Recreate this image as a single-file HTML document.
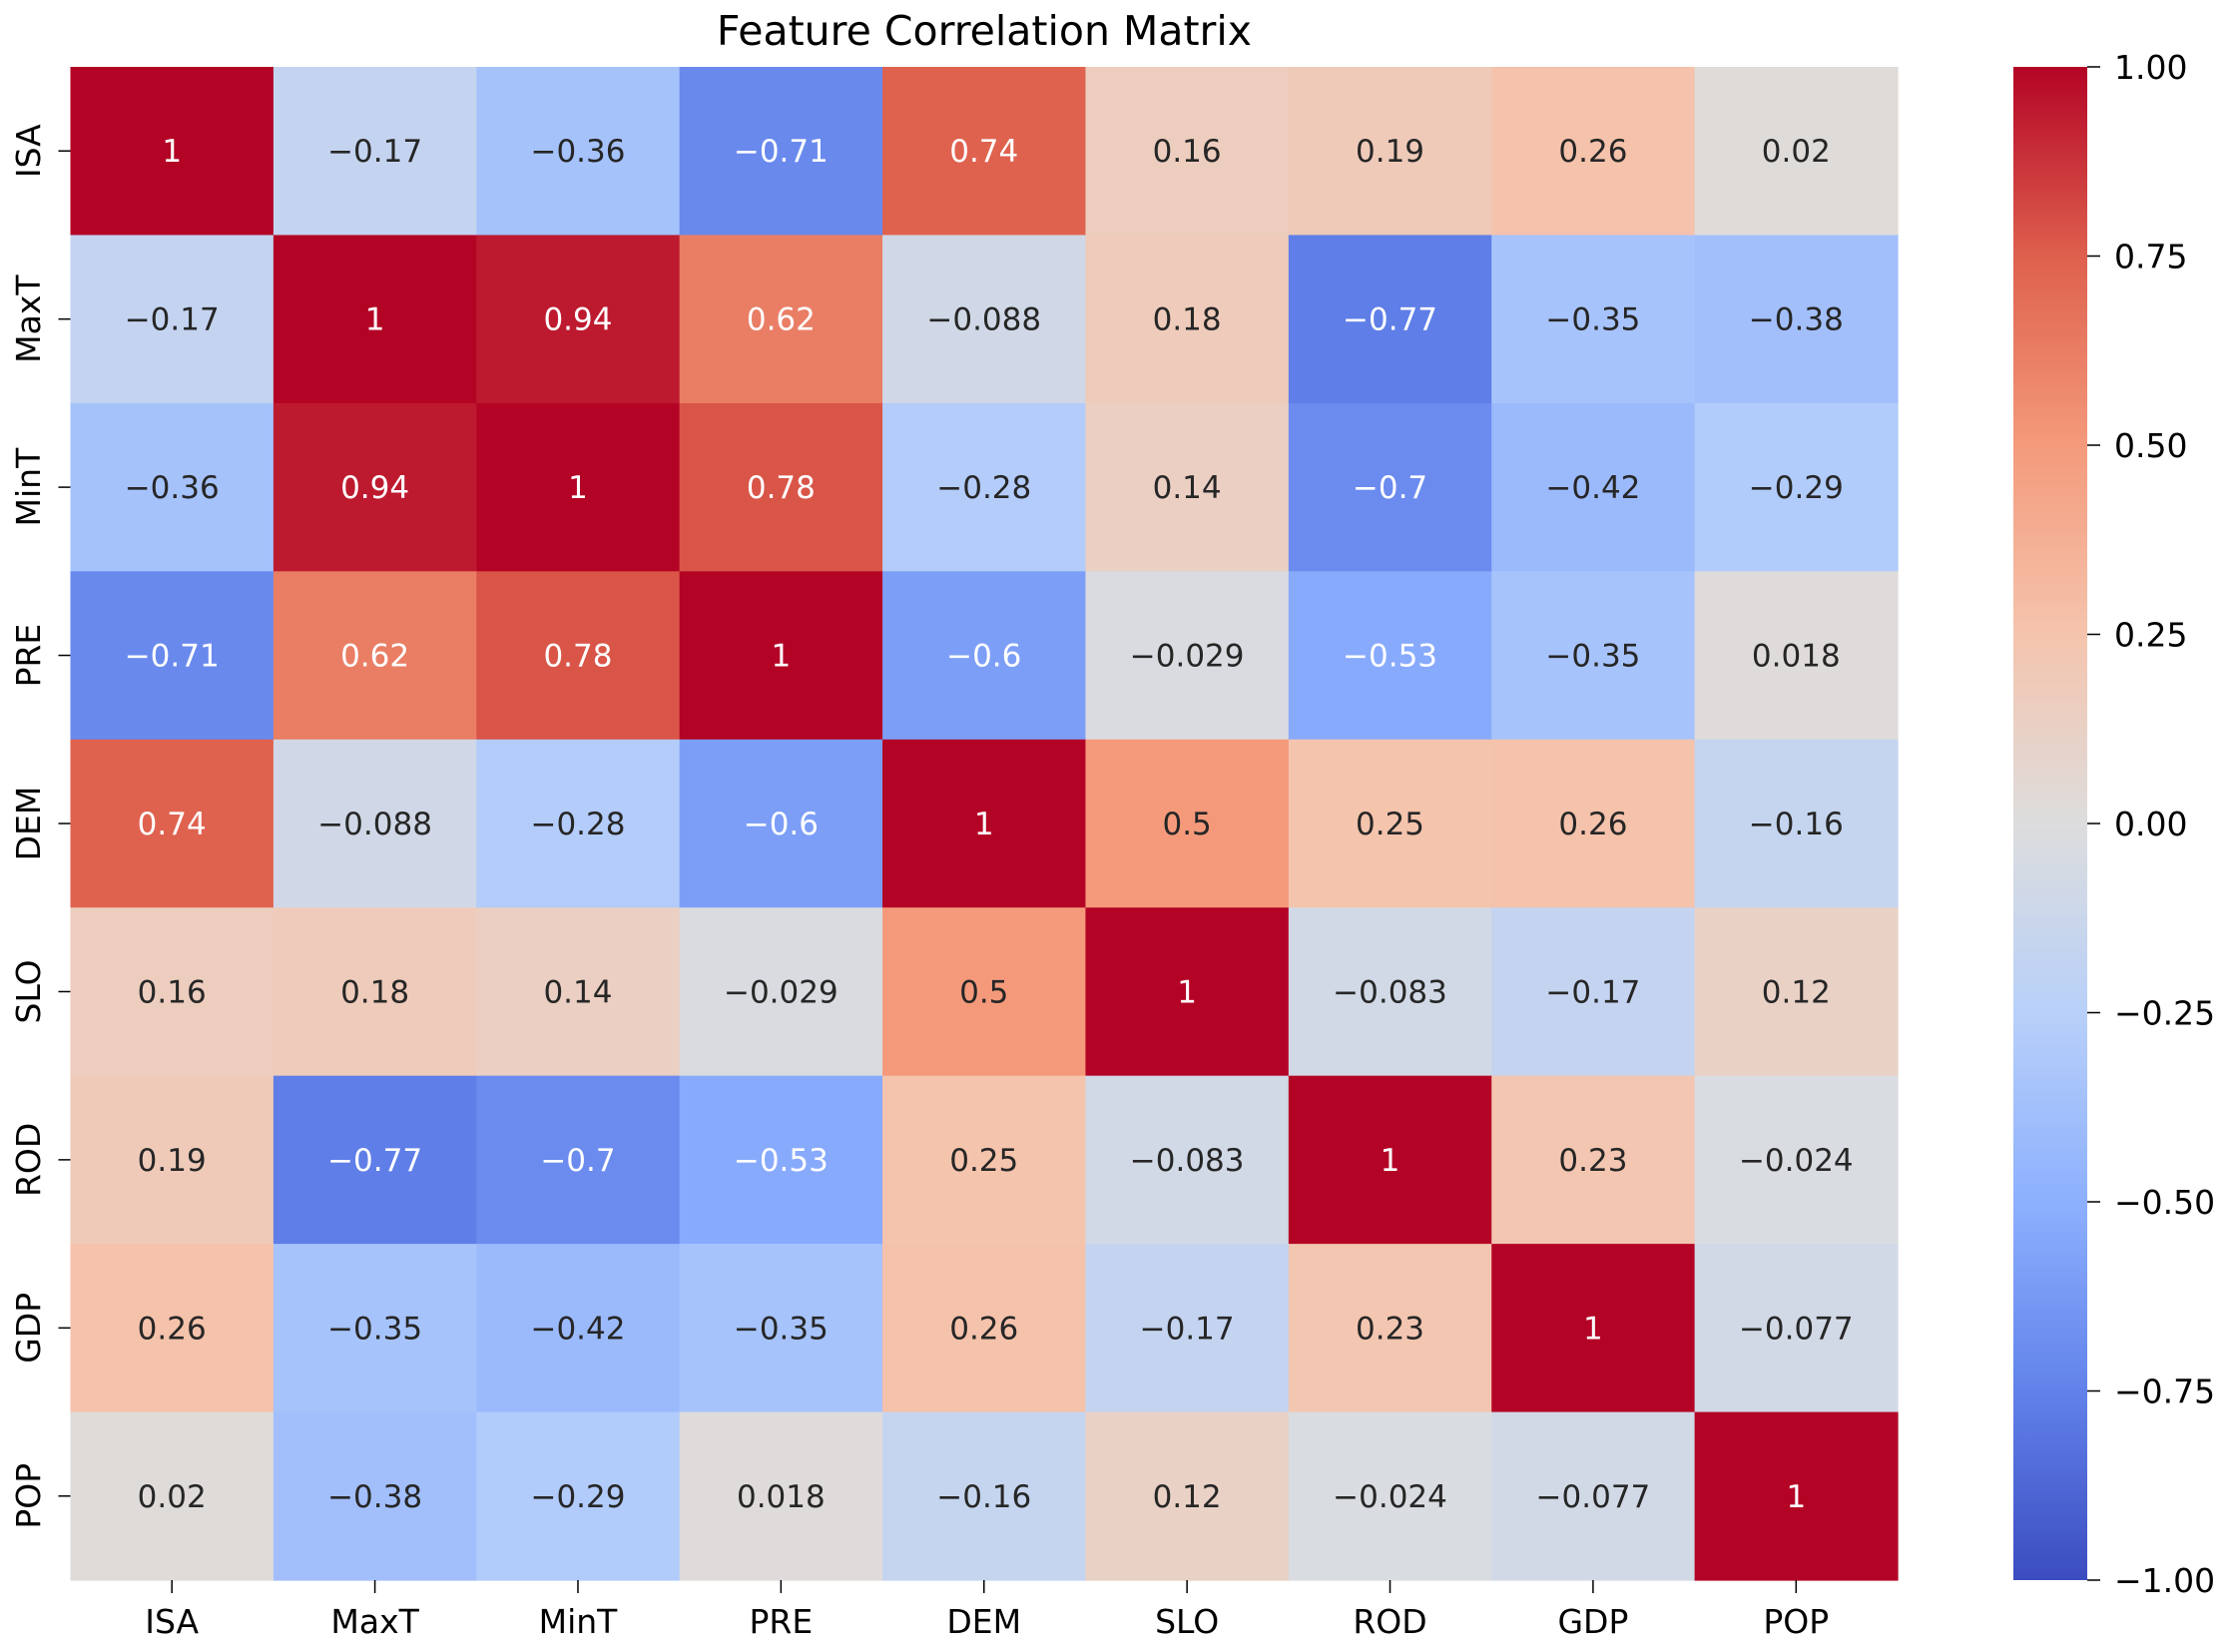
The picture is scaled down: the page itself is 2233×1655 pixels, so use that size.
<!DOCTYPE html>
<html><head><meta charset="utf-8"><style>
html,body{margin:0;padding:0;background:#fff;}
svg{display:block;font-family:"DejaVu Sans","Liberation Sans",sans-serif;}
</style></head><body>
<svg id="chart" width="2233" height="1655" viewBox="0 0 2233 1655" xmlns="http://www.w3.org/2000/svg">
<rect width="2233" height="1655" fill="#fff"/>
<defs><linearGradient id="cbgrad" x1="0" y1="1" x2="0" y2="0"></linearGradient></defs>
</svg>
<script>
const labels = ["ISA","MaxT","MinT","PRE","DEM","SLO","ROD","GDP","POP"];
const rowISA  = [1,-0.17,-0.36,-0.71,0.74,0.16,0.19,0.26,0.02];
const rowMaxT = [-0.17,1,0.94,0.62,-0.088,0.18,-0.77,-0.35,-0.38];
const rowMinT = [-0.36,0.94,1,0.78,-0.28,0.14,-0.7,-0.42,-0.29];
const rowPRE  = [-0.71,0.62,0.78,1,-0.6,-0.029,-0.53,-0.35,0.018];
const rowDEM  = [0.74,-0.088,-0.28,-0.6,1,0.5,0.25,0.26,-0.16];
const rowSLO  = [0.16,0.18,0.14,-0.029,0.5,1,-0.083,-0.17,0.12];
const rowROD  = [0.19,-0.77,-0.7,-0.53,0.25,-0.083,1,0.23,-0.024];
const rowGDP  = [0.26,-0.35,-0.42,-0.35,0.26,-0.17,0.23,1,-0.077];
const rowPOP  = [0.02,-0.38,-0.29,0.018,-0.16,0.12,-0.024,-0.077,1];
const matrix = [rowISA,rowMaxT,rowMinT,rowPRE,rowDEM,rowSLO,rowROD,rowGDP,rowPOP];
const cbTicks = [-1,-0.75,-0.5,-0.25,0,0.25,0.5,0.75,1];
const cbTickLabels = ["\u22121.00","\u22120.75","\u22120.50","\u22120.25","0.00","0.25","0.50","0.75","1.00"];

const NS="http://www.w3.org/2000/svg";
const svg=document.getElementById('chart');
const L=70.5,R=1901,T=67,B=1583;
const cw=(R-L)/labels.length, ch=(B-T)/labels.length;
const xPos=i=>L+cw*i, yPos=i=>T+ch*i;
const cmapStops=[[59,76,192],[98,130,234],[141,176,254],[184,208,249],[221,221,221],[245,196,173],[244,154,123],[222,96,77],[180,4,38]];
function cmap(v){let t=(Math.max(-1,Math.min(1,v))+1)/2*8;let i=Math.min(7,Math.floor(t));let f=t-i;
 const a=cmapStops[i],b=cmapStops[i+1];return a.map((c,k)=>Math.round(c+(b[k]-c)*f));}
function lum(c){const l=c.map(x=>{x/=255;return x<=0.03928?x/12.92:Math.pow((x+0.055)/1.055,2.4)});return 0.2126*l[0]+0.7152*l[1]+0.0722*l[2];}
function mk(tag,attrs){const e=document.createElementNS(NS,tag);for(const k in attrs)e.setAttribute(k,attrs[k]);return e;}
function fmt(v){return (v<0?"\u2212":"")+String(Math.abs(v));}
function txt(x,y,s,size,fill,anchor){const t=mk('text',{x:x,y:y,'font-size':size,fill:fill,'text-anchor':anchor});t.textContent=s;return t;}

matrix.forEach((row,r)=>row.forEach((v,c)=>{
 const col=cmap(v);
 const rect=mk('rect',{x:xPos(c),y:yPos(r),width:cw+0.6,height:ch+0.6,fill:`rgb(${col})`});
 
 
 svg.appendChild(rect);
 const t=txt(xPos(c)+cw/2,yPos(r)+ch/2+11,fmt(v),31,lum(col)<0.42?'#fff':'#262626','middle');
 
 
 svg.appendChild(t);
}));

labels.forEach((lab,i)=>{
 const cx=xPos(i)+cw/2;
 svg.appendChild(mk('line',{x1:cx,y1:B,x2:cx,y2:B+13,stroke:'#000','stroke-width':1.5}));
 const t=txt(cx,1636,lab,33,'#000','middle');
 
 
 svg.appendChild(t);
 const cy=yPos(i)+ch/2;
 svg.appendChild(mk('line',{x1:L-12,y1:cy,x2:L,y2:cy,stroke:'#000','stroke-width':1.5}));
 const yt=mk('text',{x:0,y:0,'font-size':33,fill:'#000','text-anchor':'middle',transform:`translate(40,${cy}) rotate(-90)`});
 yt.textContent=lab;
 
 
 svg.appendChild(yt);
});

const CL=2017,CR=2091;
const grad=document.getElementById('cbgrad');
for(let k=0;k<=8;k++){grad.appendChild(mk('stop',{offset:k/8,'stop-color':`rgb(${cmapStops[k]})`}));}
const cb=mk('rect',{x:CL,y:T,width:CR-CL,height:B-T,fill:'url(#cbgrad)'});


svg.appendChild(cb);
const cbY=v=>B-(v+1)/2*(B-T);
cbTicks.forEach((v,i)=>{
 const y=cbY(v);
 svg.appendChild(mk('line',{x1:CR,y1:y,x2:CR+13,y2:y,stroke:'#000','stroke-width':1.5}));
 const t=txt(2118,y+12,cbTickLabels[i],33,'#000','start');
 
 
 svg.appendChild(t);
});

const tt=txt(986,45,"Feature Correlation Matrix",41,'#000','middle');


svg.appendChild(tt);
</script>
</body></html>
